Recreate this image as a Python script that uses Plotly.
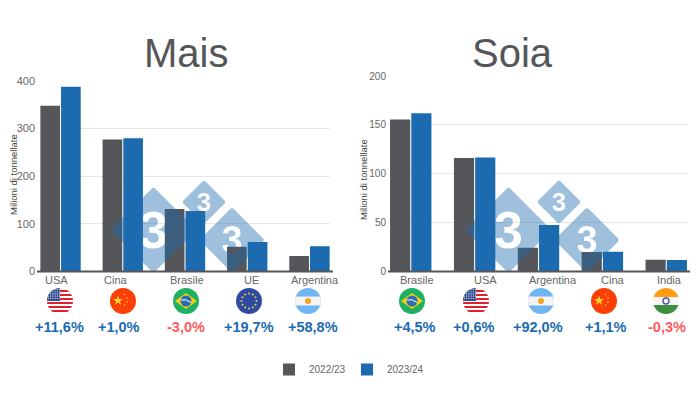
#!/usr/bin/env python3

import base64

import plotly.graph_objects as go
from plotly.subplots import make_subplots

SEASONS = ['2022/23', '2023/24']

MAIS_COUNTRIES = ['USA', 'Cina', 'Brasile', 'UE', 'Argentina']
MAIS_2223 = [348, 277, 131, 52, 32.5]
MAIS_2324 = [388, 280, 127, 62, 53]
MAIS_CHANGE = ['+11,6%', '+1,0%', '-3,0%', '+19,7%', '+58,8%']

SOIA_COUNTRIES = ['Brasile', 'USA', 'Argentina', 'Cina', 'India']
SOIA_2223 = [155.5, 116, 24.4, 20, 11.9]
SOIA_2324 = [162, 116.7, 47.5, 20.3, 11.8]
SOIA_CHANGE = ['+4,5%', '+0,6%', '+92,0%', '+1,1%', '-0,3%']

GREY = '#54565a'
BLUE = '#1c6bb0'
RED = '#ff5a5f'
TEXT = '#666666'
FONT = 'Liberation Sans'

W, H = 700, 400

FLAG_BODY = {
    'USA': ''.join(
        f'<rect y="{i * 2}" width="26" height="2" fill="{"#e0202c" if i % 2 else "#fff"}"/>'
        for i in range(13)
    ) + '<rect width="13" height="13" fill="#33508f"/>' + ''.join(
        f'<circle cx="{1.5 + x * 2.2}" cy="{1.5 + y * 2.2}" r=".55" fill="#fff"/>'
        for x in range(6) for y in range(5)
    ),
    'Cina': '<rect width="26" height="26" fill="#fb3f06"/>'
            '<polygon points="8,7.5 9.2,11 13,11 10,13.2 11,16.8 8,14.6 5,16.8 6,13.2 3,11 6.8,11" fill="#ffd52e"/>'
            '<circle cx="14.5" cy="6.5" r=".8" fill="#ffd52e"/><circle cx="17" cy="10" r=".8" fill="#ffd52e"/>'
            '<circle cx="17" cy="14" r=".8" fill="#ffd52e"/><circle cx="14.5" cy="17" r=".8" fill="#ffd52e"/>',
    'Brasile': '<rect width="26" height="26" fill="#1eb163"/>'
               '<polygon points="13,5 24,13 13,21 2,13" fill="#f5cf12"/>'
               '<circle cx="13" cy="13" r="5.5" fill="#2a6db5"/>'
               '<path d="M7.8,12 Q13,10.5 18.2,14.5" stroke="#fff" stroke-width="1" fill="none"/>',
    'UE': '<rect width="26" height="26" fill="#2f4aa3"/>' + ''.join(
        f'<circle cx="{x}" cy="{y}" r=".95" fill="#f7d22a"/>'
        for x, y in [(13, 5.5), (16.8, 6.5), (19.5, 9.2), (20.5, 13), (19.5, 16.8), (16.8, 19.5),
                     (13, 20.5), (9.2, 19.5), (6.5, 16.8), (5.5, 13), (6.5, 9.2), (9.2, 6.5)]
    ),
    'Argentina': '<rect width="26" height="26" fill="#6fb5f2"/>'
                 '<rect y="8.5" width="26" height="9" fill="#f4f4f4"/>'
                 '<circle cx="13" cy="13" r="3" fill="#f5a623"/>',
    'India': '<rect width="26" height="9" fill="#ff9c12"/>'
             '<rect y="9" width="26" height="8" fill="#f6f6f6"/>'
             '<rect y="17" width="26" height="9" fill="#3b8f3e"/>'
             '<circle cx="13" cy="13" r="3" fill="none" stroke="#4a5aa8" stroke-width="1.4"/>',
}

# flag, tick label and percentage centres differ from the bar centres in the original
MAIS_LABEL_X = [56, 116, 187, 251, 315]
MAIS_FLAG_X = [60, 123, 186, 249, 308]
MAIS_CHANGE_X = [59.5, 119, 186, 249, 313]
SOIA_LABEL_X = [417, 485, 553, 613, 669]
SOIA_FLAG_X = [412, 476, 541, 604, 666]
SOIA_CHANGE_X = [415, 474, 538, 606, 667]


def svg_uri(svg):
    return 'data:image/svg+xml;base64,' + base64.b64encode(svg.encode()).decode()


def flag_uri(name):
    return svg_uri(
        '<svg xmlns="http://www.w3.org/2000/svg" width="104" height="104" viewBox="0 0 26 26">'
        '<defs><clipPath id="c"><circle cx="13" cy="13" r="13"/></clipPath></defs>'
        f'<g clip-path="url(#c)">{FLAG_BODY[name]}</g></svg>'
    )


def watermark_uri():
    # three rounded diamonds with the "3" punched out, so bars show through it
    marks = [(48.5, 55, 39, 52), (99, 27, 18, 26), (127, 65, 28.6, 38)]
    white, black = '', ''
    for cx, cy, r, size in marks:
        pts = f'{cx},{cy - r} {cx + r},{cy} {cx},{cy + r} {cx - r},{cy}'
        white += (f'<polygon points="{pts}" fill="#fff" stroke="#fff" '
                  'stroke-width="6" stroke-linejoin="round"/>')
        black += (f'<text x="{cx}" y="{cy + size * 0.35}" font-family="{FONT}" font-weight="bold" '
                  f'font-size="{size}" text-anchor="middle" fill="#000">3</text>')
    return svg_uri(
        '<svg xmlns="http://www.w3.org/2000/svg" width="640" height="400" viewBox="0 0 160 100">'
        f'<defs><mask id="m">{white}{black}</mask></defs>'
        f'<rect width="160" height="100" fill="{BLUE}" opacity=".42" mask="url(#m)"/></svg>'
    )


def px_x(x):
    return x / W


def px_y(y):
    return 1 - y / H


def add_image(fig, source, x, y, w, h, layer='above'):
    fig.add_layout_image(source=source, xref='paper', yref='paper', x=px_x(x), y=px_y(y),
                         sizex=w / W, sizey=h / H, xanchor='left', yanchor='top',
                         sizing='stretch', layer=layer)


def add_text(fig, text, x, y, size, color=TEXT, bold=False, angle=0):
    fig.add_annotation(text=f'<b>{text}</b>' if bold else text, xref='paper', yref='paper',
                       x=px_x(x), y=px_y(y), showarrow=False, textangle=angle,
                       xanchor='center', yanchor='middle',
                       font=dict(family=FONT, size=size, color=color))


fig = make_subplots(rows=1, cols=2)

for col, (countries, first, second) in enumerate(
        [(MAIS_COUNTRIES, MAIS_2223, MAIS_2324), (SOIA_COUNTRIES, SOIA_2223, SOIA_2324)], start=1):
    for season, values, color in zip(SEASONS, (first, second), (GREY, BLUE)):
        fig.add_trace(go.Bar(x=countries, y=values, name=season, marker_color=color,
                             marker_line_width=0, legendgroup=season, showlegend=col == 1,
                             hoverinfo='x+y+name'), row=1, col=col)

grid = dict(showgrid=True, gridcolor='#e6e6e6', gridwidth=1, zeroline=False, showline=False, ticks='')
fig.update_xaxes(showticklabels=False, showgrid=False, zeroline=False, showline=False, ticks='')
fig.update_layout(
    width=W, height=H, autosize=False,
    margin=dict(l=0, r=0, t=0, b=0, autoexpand=False),
    paper_bgcolor='white', plot_bgcolor='white', barmode='group',
    bargap=0.335, bargroupgap=0.05,
    font=dict(family=FONT, color=TEXT),
    xaxis=dict(domain=[px_x(40), px_x(330)], range=[-0.33, 4.33]),
    xaxis2=dict(domain=[px_x(390), px_x(687)], range=[-0.325, 4.325]),
    yaxis=dict(domain=[px_y(271.5), px_y(81)], range=[0, 400], tickvals=[0, 100, 200, 300, 400],
               tickfont=dict(size=11, color=TEXT), ticklabelstandoff=4, **grid),
    yaxis2=dict(domain=[px_y(271.5), px_y(76)], range=[0, 200], tickvals=[0, 50, 100, 150, 200],
                tickfont=dict(size=10, color=TEXT), ticklabelstandoff=3, **grid),
    legend=dict(orientation='h', x=px_x(269), xanchor='left', y=px_y(355), yanchor='top',
                font=dict(size=10, color=TEXT), itemwidth=30, traceorder='normal',
                entrywidth=33, entrywidthmode='pixels'),
)

for x0, x1 in [(37, 333), (388, 690)]:
    fig.add_shape(type='line', xref='paper', yref='paper', x0=px_x(x0), x1=px_x(x1),
                  y0=px_y(271.5), y1=px_y(271.5), line=dict(color=GREY, width=2), layer='above')

add_text(fig, 'Mais', 186, 53, 40, color=GREY)
add_text(fig, 'Soia', 512, 53, 40, color=GREY)
add_text(fig, 'Milioni di tonnellate', 13, 175, 9.5, color='#444444', angle=-90)
add_text(fig, 'Milioni di tonnellate', 364, 180, 9.5, color='#444444', angle=-90)

for countries, label_x, flag_x, change, change_x in [
        (MAIS_COUNTRIES, MAIS_LABEL_X, MAIS_FLAG_X, MAIS_CHANGE, MAIS_CHANGE_X),
        (SOIA_COUNTRIES, SOIA_LABEL_X, SOIA_FLAG_X, SOIA_CHANGE, SOIA_CHANGE_X)]:
    for name, lx, fx, pct, cx in zip(countries, label_x, flag_x, change, change_x):
        add_text(fig, name, lx, 280, 11)
        add_image(fig, flag_uri(name), fx - 13, 288, 26, 26)
        add_text(fig, pct, cx, 327, 14.5, color=RED if pct.startswith('-') else BLUE, bold=True)

for left in (105, 460):
    add_image(fig, watermark_uri(), left, 175, 160, 100)

fig.write_html('out.html', config={'displayModeBar': False},
               post_script="document.body.style.margin='0';")
